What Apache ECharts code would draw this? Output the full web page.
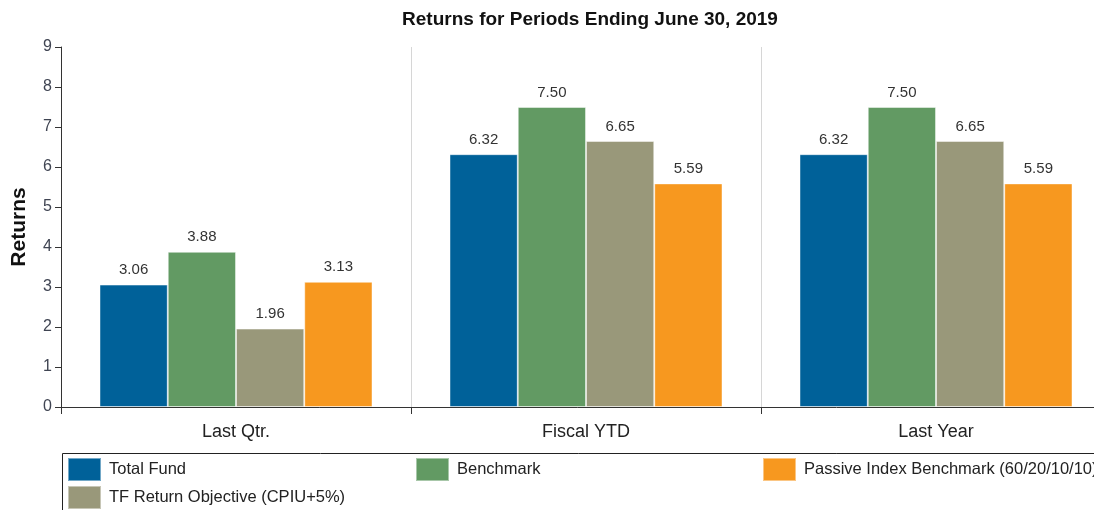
<!DOCTYPE html>
<html>
<head>
<meta charset="utf-8">
<script src="https://cdn.jsdelivr.net/npm/echarts@6/dist/echarts.min.js"></script>
<style>
  html, body { margin: 0; padding: 0; background: #fff; }
  #chart { width: 1094px; height: 510px; }
</style>
</head>
<body>
<div id="chart"></div>
<script>
var categories = ['Last Qtr.', 'Fiscal YTD', 'Last Year'];
var seriesNames = ['Total Fund', 'Benchmark', 'TF Return Objective (CPIU+5%)', 'Passive Index Benchmark (60/20/10/10)'];
var totalFund = [3.06, 6.32, 6.32];
var benchmark = [3.88, 7.50, 7.50];
var tfReturnObjective = [1.96, 6.65, 6.65];
var passiveIndex = [3.13, 5.59, 5.59];
var yTicks = [0, 1, 2, 3, 4, 5, 6, 7, 8, 9];

var colors = ['#006199', '#629a63', '#99987a', '#f7981f'];
var seriesData = [totalFund, benchmark, tfReturnObjective, passiveIndex];
var font = 'Liberation Sans, Arial, sans-serif';

var myChart = echarts.init(document.getElementById('chart'));

function makeSeries(i) {
    return {
        name: seriesNames[i],
        type: 'bar',
        data: seriesData[i],
        barGap: '0%',
        barCategoryGap: '22%',
        itemStyle: {
            color: colors[i],
            borderColor: 'rgba(255,255,255,0.45)',
            borderWidth: 1
        },
        label: {
            show: true,
            position: 'top',
            distance: 7,
            color: '#333',
            fontFamily: font,
            fontSize: 15,
            formatter: function (p) { return p.value.toFixed(2); }
        }
    };
}

function legendAt(name, left, top) {
    return {
        data: [name],
        left: left,
        top: top,
        icon: 'rect',
        itemWidth: 33,
        itemHeight: 23,
        itemGap: 0,
        padding: 0,
        selectedMode: false,
        textStyle: {
            color: '#222',
            fontFamily: font,
            fontSize: 16.5,
            padding: [0, 0, 0, 3]
        }
    };
}

myChart.setOption({
    animation: false,
    color: colors,
    title: {
        text: 'Returns for Periods Ending June 30, 2019',
        left: 585,
        textAlign: 'center',
        top: 5,
        textStyle: {
            color: '#111',
            fontFamily: font,
            fontSize: 19,
            fontWeight: 'bold'
        }
    },
    legend: [
        legendAt(seriesNames[0], 67, 457),
        legendAt(seriesNames[1], 415, 457),
        legendAt(seriesNames[3], 762, 457),
        legendAt(seriesNames[2], 67, 485)
    ],
    graphic: [{
        type: 'rect',
        left: 60,
        top: 451,
        shape: { width: 1060, height: 80 },
        style: { fill: 'none', stroke: '#222', lineWidth: 1 },
        silent: true
    }],
    grid: {
        left: 61,
        right: -17,
        top: 47,
        bottom: 103,
        containLabel: false,
        outerBoundsMode: 'none'
    },
    xAxis: {
        type: 'category',
        data: categories,
        axisLine: { lineStyle: { color: '#333', width: 1 } },
        axisTick: { show: true, length: 7, lineStyle: { color: '#333' } },
        axisLabel: {
            color: '#222',
            fontFamily: font,
            fontSize: 18,
            margin: 16
        },
        splitLine: { show: true, lineStyle: { color: '#d6d6d6', width: 1 } }
    },
    yAxis: {
        type: 'value',
        min: yTicks[0],
        max: yTicks[yTicks.length - 1],
        interval: 1,
        name: 'Returns',
        nameLocation: 'middle',
        nameGap: 31,
        nameTextStyle: {
            color: '#111',
            fontFamily: font,
            fontSize: 21,
            fontWeight: 'bold'
        },
        axisLine: { show: true, lineStyle: { color: '#333', width: 1 } },
        axisTick: { show: true, length: 6, lineStyle: { color: '#333' } },
        axisLabel: {
            color: '#3f4452',
            fontFamily: font,
            fontSize: 16,
            margin: 9
        },
        splitLine: { show: false }
    },
    series: [makeSeries(0), makeSeries(1), makeSeries(2), makeSeries(3)]
});

window.onresize = function () {
    myChart.resize();
};
</script>
</body>
</html>
